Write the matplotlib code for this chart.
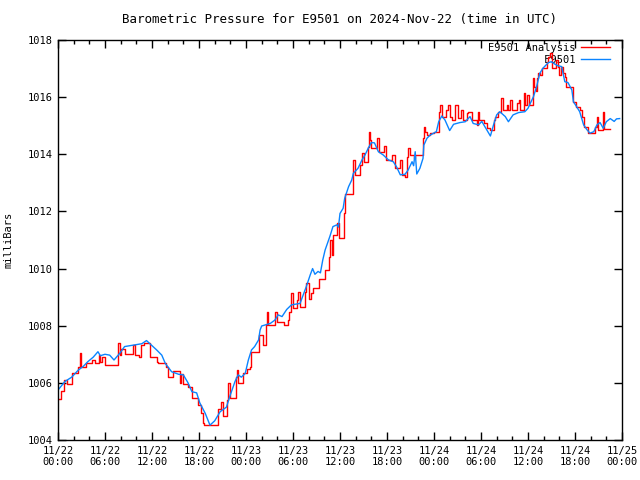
import matplotlib
matplotlib.use("Agg")
import matplotlib.pyplot as plt

# hours since 2024-11-22 00:00 UTC
analysis_hours = [0.0, 0.35, 0.8, 1.1, 1.74, 2.5, 2.8, 2.9, 3.6, 4.4, 4.7, 5.2, 5.4, 5.6, 6.0,
                  7.7, 7.9, 8.1, 8.5, 9.6, 9.8, 10.4, 10.6, 11.0, 11.7, 12.6, 12.8, 13.85, 14.0,
                  14.7, 15.55, 15.7, 15.9, 16.6, 17.1, 17.9, 18.3, 18.5, 18.6, 20.45, 20.85,
                  21.1, 21.6, 21.75, 21.9, 22.7, 22.8, 23.0, 23.6, 24.1, 24.5, 24.7, 25.7,
                  26.2, 26.55, 26.65, 26.8, 27.7, 27.9, 28.8, 29.3, 29.5, 29.7, 29.8, 30.0,
                  30.55, 30.7, 30.9, 31.5, 31.7, 32.0, 32.3, 32.6, 33.35, 34.05, 34.6, 34.7,
                  34.95, 35.15, 35.6, 35.9, 36.5, 36.6, 37.6, 37.7, 37.9, 38.55, 38.8, 39.0,
                  39.6, 39.7, 39.8, 40.0, 40.7, 41.0, 41.65, 41.9, 42.6, 43.0, 43.65, 43.9,
                  44.3, 44.6, 44.7, 44.9, 45.4, 45.6, 46.6, 46.7, 46.9, 47.1, 47.5, 48.0,
                  48.6, 48.8, 49.0, 49.5, 49.8, 50.0, 50.3, 50.7, 51.1, 51.5, 51.7, 52.2,
                  52.4, 52.8, 53.45, 53.65, 53.8, 54.4, 54.8, 55.2, 55.6, 55.8, 56.2, 56.6,
                  56.75, 57.3, 57.5, 57.7, 57.9, 58.6, 58.8, 59.0, 59.5, 59.6, 59.9, 60.1,
                  60.6, 60.8, 61.0, 61.2, 61.3, 61.5, 61.75, 62.4, 62.6, 62.8, 63.0, 63.6,
                  63.8, 64.0, 64.2, 64.5, 64.7, 64.9, 65.8, 66.1, 66.6, 66.9, 67.1, 67.6,
                  68.55, 68.8, 68.95, 69.6, 69.75, 70.5]
analysis_mb = [1005.42, 1005.72, 1006.10, 1005.95, 1006.33, 1006.57, 1007.03, 1006.57, 1006.68,
               1006.80, 1006.68, 1006.98, 1006.74, 1006.92, 1006.63, 1007.38, 1006.98, 1007.20,
               1007.00, 1007.33, 1006.98, 1006.92, 1007.33, 1007.38, 1006.92, 1006.74, 1006.68,
               1006.57, 1006.22, 1006.40, 1006.00, 1006.30, 1005.95, 1005.87, 1005.46, 1005.23,
               1004.93, 1004.58, 1004.52, 1005.10, 1005.34, 1004.84, 1005.40, 1006.00, 1005.46,
               1006.22, 1006.45, 1006.00, 1006.33, 1006.50, 1006.57, 1007.09, 1007.68, 1007.33,
               1008.03, 1008.49, 1008.03, 1008.49, 1008.14, 1008.03, 1008.20, 1008.49, 1008.96,
               1009.13, 1008.61, 1008.90, 1009.19, 1008.67, 1009.19, 1009.48, 1008.92, 1009.16,
               1009.31, 1009.62, 1009.95, 1010.42, 1011.00, 1010.48, 1011.18, 1011.58, 1011.06,
               1011.93, 1012.60, 1013.28, 1013.80, 1013.28, 1013.63, 1014.03, 1013.74, 1014.27,
               1014.79, 1014.50, 1014.21, 1014.56, 1014.09, 1014.30, 1013.80, 1013.98, 1013.51,
               1013.80, 1013.28, 1013.20, 1013.92, 1014.21, 1013.98, 1013.86, 1013.98, 1014.56,
               1014.97, 1014.79, 1014.67, 1014.74, 1014.79, 1015.49, 1015.73, 1015.30, 1015.55,
               1015.73, 1015.30, 1015.20, 1015.73, 1015.26, 1015.55, 1015.20, 1015.43, 1015.49,
               1015.20, 1015.03, 1015.49, 1015.20, 1015.08, 1014.91, 1014.85, 1015.20, 1015.32,
               1015.49, 1015.96, 1015.55, 1015.73, 1015.55, 1015.90, 1015.55, 1015.78, 1015.90,
               1015.55, 1016.13, 1015.73, 1016.08, 1015.73, 1016.66, 1016.37, 1016.20, 1016.66,
               1016.83, 1016.78, 1017.01, 1017.24, 1017.42, 1017.53, 1017.01, 1017.30, 1017.07,
               1016.78, 1017.07, 1016.83, 1016.72, 1016.37, 1015.84, 1015.67, 1015.55, 1015.32,
               1014.97, 1014.74, 1014.95, 1015.32, 1014.85, 1015.49, 1014.87, 1014.87]

station_hours = [0.0, 0.9, 1.75, 2.6, 3.2, 3.8, 4.5, 5.1, 5.4, 6.0, 6.6, 7.15, 7.9, 8.5, 9.8,
                 10.7, 11.3, 12.0, 12.6, 13.25, 13.7, 14.5, 15.4, 16.0, 16.6, 17.1, 17.7, 18.1,
                 18.8, 19.4, 20.0, 20.7, 21.5, 22.0, 22.6, 23.0, 23.4, 23.9, 24.3, 24.7, 25.1,
                 25.6, 25.8, 26.0, 27.1, 27.7, 28.1, 28.6, 29.2, 29.8, 30.9, 31.7, 32.2, 32.5,
                 32.8, 33.2, 33.5, 33.8, 34.1, 34.7, 35.1, 35.6, 35.8, 36.0, 36.4, 36.6, 37.1,
                 37.5, 37.7, 38.3, 38.8, 39.2, 39.6, 40.0, 40.4, 40.9, 41.5, 42.2, 42.8, 43.2,
                 43.7, 44.3, 44.7, 45.2, 45.4, 45.6, 45.8, 46.2, 46.6, 46.7, 47.1, 47.5, 48.3,
                 48.6, 49.0, 49.4, 50.0, 50.5, 51.3, 52.0, 52.6, 53.0, 53.7, 54.1, 54.7, 55.2,
                 55.6, 56.0, 56.4, 57.1, 57.5, 58.1, 58.8, 59.6, 60.0, 60.7, 61.1, 61.5, 61.9,
                 62.6, 63.0, 63.4, 63.8, 64.3, 64.7, 65.1, 65.6, 65.8, 66.2, 66.6, 67.1, 67.5,
                 67.9, 68.4, 68.8, 69.2, 69.6, 70.0, 70.5, 71.0, 71.3, 71.7]
station_mb = [1005.75, 1006.05, 1006.20, 1006.45, 1006.57, 1006.74, 1006.90, 1007.09, 1006.95,
              1007.00, 1006.97, 1006.80, 1007.04, 1007.27, 1007.33, 1007.37, 1007.48, 1007.30,
              1007.15, 1006.97, 1006.68, 1006.39, 1006.30, 1006.28, 1006.00, 1005.69, 1005.65,
              1005.30, 1004.93, 1004.52, 1004.67, 1004.99, 1005.15, 1005.58, 1006.05, 1006.28,
              1006.20, 1006.33, 1006.80, 1007.15, 1007.27, 1007.50, 1007.85, 1007.99, 1008.08,
              1008.20, 1008.38, 1008.32, 1008.57, 1008.73, 1008.78, 1009.37, 1009.78, 1010.00,
              1009.80, 1009.90, 1009.85, 1010.30, 1010.65, 1011.12, 1011.47, 1011.53, 1011.45,
              1011.93, 1012.11, 1012.46, 1012.87, 1013.10, 1013.33, 1013.51, 1013.80, 1013.98,
              1014.21, 1014.41, 1014.40, 1014.09, 1013.98, 1013.80, 1013.74, 1013.57, 1013.28,
              1013.30, 1013.45, 1013.74, 1013.60, 1014.09, 1013.31, 1013.51, 1013.86, 1014.32,
              1014.56, 1014.67, 1014.79, 1015.14, 1015.34, 1015.20, 1014.83, 1015.05, 1015.11,
              1015.14, 1015.32, 1015.08, 1015.03, 1015.15, 1014.87, 1014.64, 1015.03, 1015.38,
              1015.49, 1015.32, 1015.14, 1015.38, 1015.46, 1015.49, 1015.61, 1016.02, 1016.37,
              1016.83, 1017.01, 1017.21, 1017.24, 1017.16, 1017.10, 1017.07, 1016.54, 1016.51,
              1016.25, 1015.84, 1015.67, 1015.49, 1015.03, 1014.87, 1014.74, 1014.79, 1015.03,
              1015.11, 1014.91, 1015.14, 1015.25, 1015.15, 1015.24, 1015.25]

tick_hours = list(range(0, 73, 6))
tick_labels = ["11/22\n00:00", "11/22\n06:00", "11/22\n12:00", "11/22\n18:00",
               "11/23\n00:00", "11/23\n06:00", "11/23\n12:00", "11/23\n18:00",
               "11/24\n00:00", "11/24\n06:00", "11/24\n12:00", "11/24\n18:00",
               "11/25\n00:00"]
y_ticks = [1004, 1006, 1008, 1010, 1012, 1014, 1016, 1018]

plt.rcParams['font.family'] = ['DejaVu Sans Mono']
plt.rcParams['font.size'] = 7.5

fig = plt.figure(figsize=(6.4, 4.8), dpi=100)
ax = fig.add_axes([58/640, 40/480, 564/640, 400/480])

ax.plot(analysis_hours, analysis_mb, color="#ff0000", lw=1.0, drawstyle="steps-post",
        label="E9501 Analysis")
ax.plot(station_hours, station_mb, color="#0a84ff", lw=1.0, label="         E9501")

ax.set_xlim(0, 72)
ax.set_ylim(1004, 1018)
ax.set_xticks(tick_hours)
ax.set_xticklabels(tick_labels)
ax.set_xticks(range(0, 73, 2), minor=True)
ax.set_yticks(y_ticks)
ax.tick_params(which="both", direction="in", top=True, right=True, width=1, pad=4)
ax.tick_params(which="major", length=6)
ax.tick_params(which="minor", length=3)
for s in ax.spines.values():
    s.set_linewidth(1)

ax.set_ylabel("milliBars", labelpad=10)
ax.set_title("Barometric Pressure for E9501 on 2024-Nov-22 (time in UTC)", pad=12)

leg = ax.legend(loc="upper right", bbox_to_anchor=(0.979, 0.993), frameon=False,
                markerfirst=False, handlelength=2.8, handletextpad=0.5,
                borderaxespad=0, borderpad=0, labelspacing=0.2)
leg.set_zorder(0)

fig.savefig("out.png", dpi=100)
